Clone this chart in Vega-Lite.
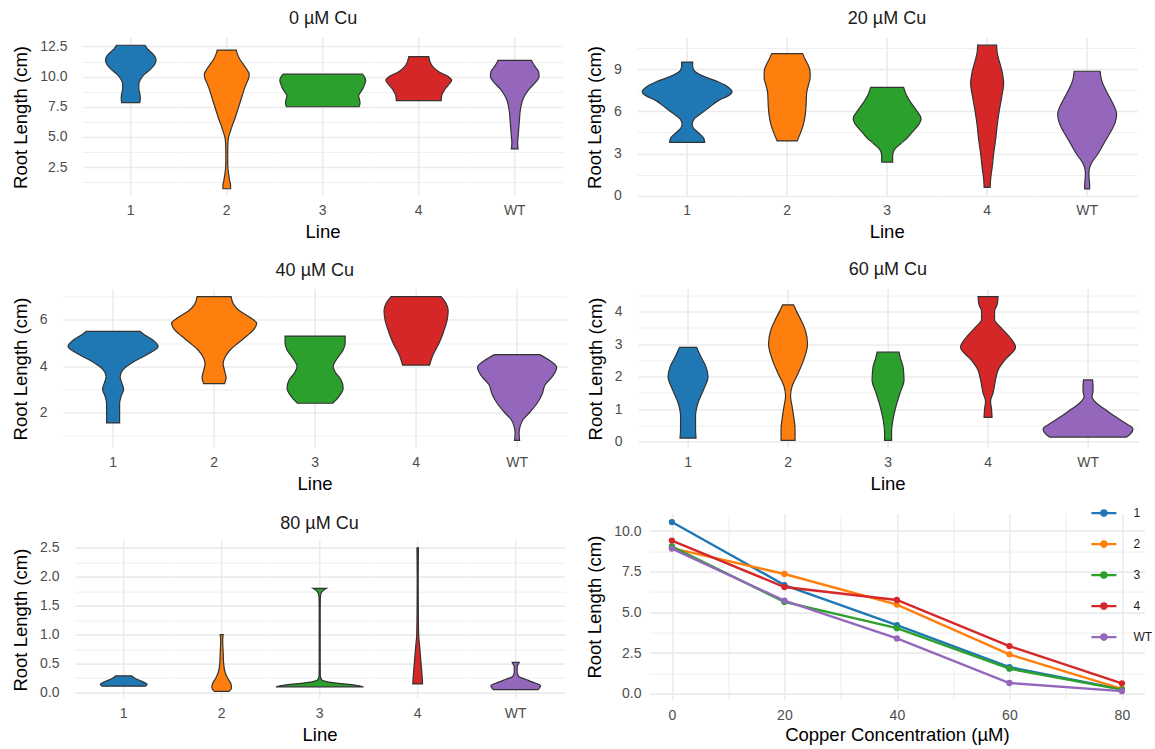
{
"$schema": "https://vega.github.io/schema/vega-lite/v6.json",
"padding": {"left": 0, "top": 10, "right": 0, "bottom": 0},
"background": "white",
"datasets": {
"v0": [
{"line":"1","y":7.85,"w":0.19},{"line":"1","y":8.2,"w":0.2},{"line":"1","y":8.6,"w":0.19},{"line":"1","y":9.0,"w":0.17},{"line":"1","y":9.4,"w":0.17},{"line":"1","y":9.8,"w":0.21},{"line":"1","y":10.2,"w":0.29},{"line":"1","y":10.6,"w":0.41},{"line":"1","y":11.0,"w":0.5},{"line":"1","y":11.35,"w":0.53},{"line":"1","y":11.7,"w":0.5},{"line":"1","y":12.0,"w":0.43},{"line":"1","y":12.3,"w":0.35},{"line":"1","y":12.6,"w":0.3},
{"line":"2","y":0.7,"w":0.08},{"line":"2","y":1.0,"w":0.08},{"line":"2","y":1.4,"w":0.06},{"line":"2","y":1.9,"w":0.04},{"line":"2","y":2.4,"w":0.025},{"line":"2","y":3.0,"w":0.02},{"line":"2","y":3.8,"w":0.02},{"line":"2","y":4.5,"w":0.025},{"line":"2","y":5.0,"w":0.04},{"line":"2","y":5.5,"w":0.08},{"line":"2","y":6.0,"w":0.12},{"line":"2","y":6.5,"w":0.17},{"line":"2","y":7.0,"w":0.21},{"line":"2","y":7.5,"w":0.25},{"line":"2","y":8.0,"w":0.29},{"line":"2","y":8.5,"w":0.33},{"line":"2","y":9.0,"w":0.37},{"line":"2","y":9.5,"w":0.42},{"line":"2","y":9.9,"w":0.46},{"line":"2","y":10.2,"w":0.47},{"line":"2","y":10.6,"w":0.42},{"line":"2","y":11.0,"w":0.35},{"line":"2","y":11.4,"w":0.28},{"line":"2","y":11.8,"w":0.23},{"line":"2","y":12.2,"w":0.2},
{"line":"3","y":7.5,"w":0.76},{"line":"3","y":7.8,"w":0.78},{"line":"3","y":8.1,"w":0.77},{"line":"3","y":8.4,"w":0.75},{"line":"3","y":8.7,"w":0.79},{"line":"3","y":9.0,"w":0.84},{"line":"3","y":9.4,"w":0.88},{"line":"3","y":9.7,"w":0.9},{"line":"3","y":10.0,"w":0.87},{"line":"3","y":10.2,"w":0.83},
{"line":"4","y":8.0,"w":0.47},{"line":"4","y":8.4,"w":0.48},{"line":"4","y":8.9,"w":0.54},{"line":"4","y":9.3,"w":0.62},{"line":"4","y":9.7,"w":0.69},{"line":"4","y":10.0,"w":0.62},{"line":"4","y":10.4,"w":0.42},{"line":"4","y":10.8,"w":0.3},{"line":"4","y":11.2,"w":0.24},{"line":"4","y":11.65,"w":0.21},
{"line":"WT","y":4.0,"w":0.07},{"line":"WT","y":4.5,"w":0.06},{"line":"WT","y":5.0,"w":0.07},{"line":"WT","y":5.5,"w":0.08},{"line":"WT","y":6.0,"w":0.09},{"line":"WT","y":6.5,"w":0.1},{"line":"WT","y":7.0,"w":0.11},{"line":"WT","y":7.5,"w":0.13},{"line":"WT","y":8.0,"w":0.16},{"line":"WT","y":8.5,"w":0.22},{"line":"WT","y":9.0,"w":0.31},{"line":"WT","y":9.5,"w":0.43},{"line":"WT","y":10.0,"w":0.51},{"line":"WT","y":10.4,"w":0.5},{"line":"WT","y":10.8,"w":0.43},{"line":"WT","y":11.1,"w":0.38},{"line":"WT","y":11.35,"w":0.35}
],
"v20": [
{"line":"1","y":3.8,"w":0.35},{"line":"1","y":4.1,"w":0.33},{"line":"1","y":4.5,"w":0.22},{"line":"1","y":4.8,"w":0.13},{"line":"1","y":5.1,"w":0.1},{"line":"1","y":5.5,"w":0.15},{"line":"1","y":5.9,"w":0.3},{"line":"1","y":6.3,"w":0.45},{"line":"1","y":6.8,"w":0.64},{"line":"1","y":7.1,"w":0.82},{"line":"1","y":7.4,"w":0.9},{"line":"1","y":7.7,"w":0.83},{"line":"1","y":8.1,"w":0.62},{"line":"1","y":8.5,"w":0.32},{"line":"1","y":8.9,"w":0.14},{"line":"1","y":9.2,"w":0.11},{"line":"1","y":9.5,"w":0.11},
{"line":"2","y":3.9,"w":0.2},{"line":"2","y":4.4,"w":0.26},{"line":"2","y":5.0,"w":0.32},{"line":"2","y":5.7,"w":0.36},{"line":"2","y":6.5,"w":0.38},{"line":"2","y":7.3,"w":0.39},{"line":"2","y":7.8,"w":0.42},{"line":"2","y":8.4,"w":0.46},{"line":"2","y":8.8,"w":0.46},{"line":"2","y":9.3,"w":0.42},{"line":"2","y":9.7,"w":0.36},{"line":"2","y":10.1,"w":0.31},
{"line":"3","y":2.4,"w":0.11},{"line":"3","y":2.9,"w":0.11},{"line":"3","y":3.3,"w":0.15},{"line":"3","y":3.7,"w":0.27},{"line":"3","y":4.1,"w":0.4},{"line":"3","y":4.6,"w":0.52},{"line":"3","y":5.0,"w":0.62},{"line":"3","y":5.5,"w":0.68},{"line":"3","y":6.0,"w":0.6},{"line":"3","y":6.6,"w":0.48},{"line":"3","y":7.2,"w":0.38},{"line":"3","y":7.7,"w":0.33},
{"line":"4","y":0.6,"w":0.06},{"line":"4","y":1.2,"w":0.07},{"line":"4","y":2.0,"w":0.1},{"line":"4","y":3.0,"w":0.13},{"line":"4","y":4.0,"w":0.17},{"line":"4","y":5.0,"w":0.2},{"line":"4","y":6.0,"w":0.24},{"line":"4","y":7.0,"w":0.29},{"line":"4","y":8.0,"w":0.33},{"line":"4","y":8.8,"w":0.3},{"line":"4","y":9.6,"w":0.24},{"line":"4","y":10.2,"w":0.2},{"line":"4","y":10.7,"w":0.19},
{"line":"WT","y":0.5,"w":0.05},{"line":"WT","y":0.8,"w":0.05},{"line":"WT","y":1.2,"w":0.04},{"line":"WT","y":1.6,"w":0.035},{"line":"WT","y":2.0,"w":0.05},{"line":"WT","y":2.4,"w":0.1},{"line":"WT","y":2.9,"w":0.2},{"line":"WT","y":3.5,"w":0.3},{"line":"WT","y":4.0,"w":0.38},{"line":"WT","y":4.6,"w":0.48},{"line":"WT","y":5.2,"w":0.56},{"line":"WT","y":5.8,"w":0.59},{"line":"WT","y":6.3,"w":0.55},{"line":"WT","y":7.0,"w":0.45},{"line":"WT","y":7.6,"w":0.36},{"line":"WT","y":8.2,"w":0.29},{"line":"WT","y":8.85,"w":0.26}
],
"v40": [
{"line":"1","y":1.55,"w":0.13},{"line":"1","y":2.0,"w":0.13},{"line":"1","y":2.4,"w":0.13},{"line":"1","y":2.7,"w":0.16},{"line":"1","y":3.0,"w":0.21},{"line":"1","y":3.3,"w":0.17},{"line":"1","y":3.55,"w":0.14},{"line":"1","y":3.85,"w":0.2},{"line":"1","y":4.2,"w":0.42},{"line":"1","y":4.5,"w":0.68},{"line":"1","y":4.85,"w":0.9},{"line":"1","y":5.15,"w":0.78},{"line":"1","y":5.35,"w":0.63},{"line":"1","y":5.5,"w":0.54},
{"line":"2","y":3.25,"w":0.21},{"line":"2","y":3.5,"w":0.24},{"line":"2","y":3.8,"w":0.21},{"line":"2","y":4.1,"w":0.18},{"line":"2","y":4.4,"w":0.22},{"line":"2","y":4.7,"w":0.32},{"line":"2","y":5.0,"w":0.48},{"line":"2","y":5.3,"w":0.65},{"line":"2","y":5.6,"w":0.8},{"line":"2","y":5.85,"w":0.85},{"line":"2","y":6.1,"w":0.72},{"line":"2","y":6.4,"w":0.5},{"line":"2","y":6.7,"w":0.38},{"line":"2","y":7.0,"w":0.34},
{"line":"3","y":2.4,"w":0.35},{"line":"3","y":2.7,"w":0.48},{"line":"3","y":3.05,"w":0.56},{"line":"3","y":3.4,"w":0.52},{"line":"3","y":3.75,"w":0.4},{"line":"3","y":4.0,"w":0.36},{"line":"3","y":4.3,"w":0.43},{"line":"3","y":4.7,"w":0.56},{"line":"3","y":5.0,"w":0.6},{"line":"3","y":5.3,"w":0.6},
{"line":"4","y":4.05,"w":0.27},{"line":"4","y":4.5,"w":0.34},{"line":"4","y":5.0,"w":0.46},{"line":"4","y":5.5,"w":0.55},{"line":"4","y":6.0,"w":0.62},{"line":"4","y":6.4,"w":0.64},{"line":"4","y":6.7,"w":0.6},{"line":"4","y":7.0,"w":0.5},
{"line":"WT","y":0.8,"w":0.05},{"line":"WT","y":1.1,"w":0.04},{"line":"WT","y":1.4,"w":0.06},{"line":"WT","y":1.7,"w":0.12},{"line":"WT","y":2.0,"w":0.25},{"line":"WT","y":2.4,"w":0.4},{"line":"WT","y":2.8,"w":0.5},{"line":"WT","y":3.2,"w":0.56},{"line":"WT","y":3.6,"w":0.72},{"line":"WT","y":3.95,"w":0.79},{"line":"WT","y":4.25,"w":0.65},{"line":"WT","y":4.5,"w":0.45}
],
"v60": [
{"line":"1","y":0.12,"w":0.16},{"line":"1","y":0.4,"w":0.15},{"line":"1","y":0.8,"w":0.15},{"line":"1","y":1.2,"w":0.2},{"line":"1","y":1.6,"w":0.31},{"line":"1","y":2.0,"w":0.4},{"line":"1","y":2.3,"w":0.36},{"line":"1","y":2.6,"w":0.26},{"line":"1","y":2.9,"w":0.17},
{"line":"2","y":0.05,"w":0.14},{"line":"2","y":0.4,"w":0.14},{"line":"2","y":0.8,"w":0.11},{"line":"2","y":1.1,"w":0.08},{"line":"2","y":1.4,"w":0.05},{"line":"2","y":1.7,"w":0.08},{"line":"2","y":2.1,"w":0.2},{"line":"2","y":2.5,"w":0.31},{"line":"2","y":3.0,"w":0.39},{"line":"2","y":3.4,"w":0.35},{"line":"2","y":3.7,"w":0.27},{"line":"2","y":4.0,"w":0.17},{"line":"2","y":4.2,"w":0.11},
{"line":"3","y":0.05,"w":0.07},{"line":"3","y":0.3,"w":0.07},{"line":"3","y":0.7,"w":0.1},{"line":"3","y":1.1,"w":0.16},{"line":"3","y":1.5,"w":0.24},{"line":"3","y":1.9,"w":0.32},{"line":"3","y":2.3,"w":0.3},{"line":"3","y":2.55,"w":0.25},{"line":"3","y":2.75,"w":0.22},
{"line":"4","y":0.75,"w":0.08},{"line":"4","y":1.0,"w":0.07},{"line":"4","y":1.25,"w":0.05},{"line":"4","y":1.5,"w":0.1},{"line":"4","y":1.9,"w":0.15},{"line":"4","y":2.2,"w":0.2},{"line":"4","y":2.5,"w":0.33},{"line":"4","y":2.9,"w":0.55},{"line":"4","y":3.2,"w":0.44},{"line":"4","y":3.5,"w":0.26},{"line":"4","y":3.75,"w":0.13},{"line":"4","y":4.0,"w":0.13},{"line":"4","y":4.2,"w":0.18},{"line":"4","y":4.45,"w":0.2},
{"line":"WT","y":0.15,"w":0.77},{"line":"WT","y":0.25,"w":0.85},{"line":"WT","y":0.4,"w":0.9},{"line":"WT","y":0.6,"w":0.72},{"line":"WT","y":0.8,"w":0.52},{"line":"WT","y":1.0,"w":0.34},{"line":"WT","y":1.2,"w":0.16},{"line":"WT","y":1.4,"w":0.08},{"line":"WT","y":1.55,"w":0.1},{"line":"WT","y":1.7,"w":0.1},{"line":"WT","y":1.9,"w":0.09}
],
"v80": [
{"line":"1","y":0.11,"w":0.44},{"line":"1","y":0.14,"w":0.48},{"line":"1","y":0.2,"w":0.36},{"line":"1","y":0.25,"w":0.22},{"line":"1","y":0.29,"w":0.16},
{"line":"2","y":0.02,"w":0.15},{"line":"2","y":0.08,"w":0.2},{"line":"2","y":0.15,"w":0.19},{"line":"2","y":0.25,"w":0.12},{"line":"2","y":0.35,"w":0.07},{"line":"2","y":0.5,"w":0.04},{"line":"2","y":0.7,"w":0.03},{"line":"2","y":0.9,"w":0.02},{"line":"2","y":1.0,"w":0.03},
{"line":"3","y":0.1,"w":0.9},{"line":"3","y":0.13,"w":0.72},{"line":"3","y":0.16,"w":0.38},{"line":"3","y":0.19,"w":0.14},{"line":"3","y":0.22,"w":0.04},{"line":"3","y":0.3,"w":0.012},{"line":"3","y":0.6,"w":0.01},{"line":"3","y":1.0,"w":0.01},{"line":"3","y":1.4,"w":0.01},{"line":"3","y":1.62,"w":0.012},{"line":"3","y":1.71,"w":0.025},{"line":"3","y":1.76,"w":0.07},{"line":"3","y":1.8,"w":0.14},
{"line":"4","y":0.15,"w":0.1},{"line":"4","y":0.3,"w":0.09},{"line":"4","y":0.5,"w":0.07},{"line":"4","y":0.8,"w":0.04},{"line":"4","y":1.0,"w":0.02},{"line":"4","y":1.5,"w":0.012},{"line":"4","y":2.0,"w":0.01},{"line":"4","y":2.5,"w":0.015},
{"line":"WT","y":0.05,"w":0.46},{"line":"WT","y":0.12,"w":0.51},{"line":"WT","y":0.18,"w":0.35},{"line":"WT","y":0.23,"w":0.2},{"line":"WT","y":0.28,"w":0.06},{"line":"WT","y":0.35,"w":0.03},{"line":"WT","y":0.45,"w":0.03},{"line":"WT","y":0.5,"w":0.06},{"line":"WT","y":0.52,"w":0.07}
],
"means": [
{"line":"1","cu":0,"len":10.55},{"line":"1","cu":20,"len":6.68},{"line":"1","cu":40,"len":4.22},{"line":"1","cu":60,"len":1.64},{"line":"1","cu":80,"len":0.27},
{"line":"2","cu":0,"len":8.95},{"line":"2","cu":20,"len":7.36},{"line":"2","cu":40,"len":5.48},{"line":"2","cu":60,"len":2.42},{"line":"2","cu":80,"len":0.3},
{"line":"3","cu":0,"len":9.05},{"line":"3","cu":20,"len":5.64},{"line":"3","cu":40,"len":4.03},{"line":"3","cu":60,"len":1.54},{"line":"3","cu":80,"len":0.25},
{"line":"4","cu":0,"len":9.41},{"line":"4","cu":20,"len":6.56},{"line":"4","cu":40,"len":5.76},{"line":"4","cu":60,"len":2.93},{"line":"4","cu":80,"len":0.64},
{"line":"WT","cu":0,"len":8.92},{"line":"WT","cu":20,"len":5.72},{"line":"WT","cu":40,"len":3.4},{"line":"WT","cu":60,"len":0.66},{"line":"WT","cu":80,"len":0.16}
],
"none": []
},
"vconcat": [
{"vconcat": [
{"hconcat": [
 {"hconcat": [
  {"data": {"name": "none"}, "mark": "point", "width": 1, "height": 1},
  {"title": {"text": "0 µM Cu", "dx": 36},
   "data": {"name": "v0"}, "spacing": 0,
   "transform": [{"stack": "w", "groupby": ["line", "y"], "offset": "center", "as": ["x0", "x1"]}],
   "facet": {"column": {"field": "line", "type": "nominal", "title": "Line", "sort": ["1","2","3","4","WT"]}},
   "spec": {"width": 95.5, "height": 158, "layer": [
    {"transform": [{"aggregate": [{"op": "count", "as": "n"}], "groupby": ["line"]}],
     "mark": {"type": "rule", "color": "#ebebeb", "strokeWidth": 1.6},
     "encoding": {"x": {"datum": 0.45, "type": "quantitative", "scale": {"domain": [-0.05, 0.95], "nice": false, "zero": false}, "axis": null}}},
    {"mark": {"type": "area", "orient": "horizontal", "interpolate": "monotone", "stroke": "#333333", "strokeWidth": 1.2, "fillOpacity": 1},
     "encoding": {
      "y": {"field": "y", "type": "quantitative", "scale": {"domain": [0.1, 13.2], "nice": false, "zero": false},
        "axis": {"title": "Root Length (cm)", "values": [1.25,2.5,3.75,5,6.25,7.5,8.75,10,11.25,12.5], "labelExpr": "round(datum.value/1.25)%2==1 ? '' : format(datum.value,'.1f')", "gridWidth": {"condition": {"test": "round(datum.value/1.25)%2==1", "value": 0.8}, "value": 1.6}, "labelPadding": 16, "labelOverlap": false}},
      "x": {"field": "x0", "type": "quantitative", "stack": null, "axis": null, "scale": {"domain": [-0.05, 0.95], "nice": false, "zero": false}},
      "x2": {"field": "x1"},
      "color": {"field": "line", "type": "nominal", "scale": {"domain": ["1","2","3","4","WT"], "range": ["#1f77b4","#ff7f0e","#2ca02c","#d62728","#9467bd"]}, "legend": null}
     }}
   ]}}
 ], "spacing": 10},
 {"title": {"text": "20 µM Cu", "dx": 25.7},
  "data": {"name": "v20"}, "spacing": 0,
  "transform": [{"stack": "w", "groupby": ["line", "y"], "offset": "center", "as": ["x0", "x1"]}],
  "facet": {"column": {"field": "line", "type": "nominal", "title": "Line", "sort": ["1","2","3","4","WT"]}},
  "spec": {"width": 99.9, "height": 158, "layer": [
   {"transform": [{"aggregate": [{"op": "count", "as": "n"}], "groupby": ["line"]}],
    "mark": {"type": "rule", "color": "#ebebeb", "strokeWidth": 1.6},
    "encoding": {"x": {"datum": 0.45, "type": "quantitative", "scale": {"domain": [-0.05, 0.95], "nice": false, "zero": false}, "axis": null}}},
   {"mark": {"type": "area", "orient": "horizontal", "interpolate": "monotone", "stroke": "#333333", "strokeWidth": 1.2, "fillOpacity": 1},
    "encoding": {
     "y": {"field": "y", "type": "quantitative", "scale": {"domain": [-0.01, 11.21], "nice": false, "zero": false},
       "axis": {"title": "Root Length (cm)", "values": [0,1.5,3,4.5,6,7.5,9,10.5], "labelExpr": "round(datum.value/1.5)%2==1 ? '' : format(datum.value,'d')", "gridWidth": {"condition": {"test": "round(datum.value/1.5)%2==1", "value": 0.8}, "value": 1.6}, "labelPadding": 16, "labelOverlap": false}},
     "x": {"field": "x0", "type": "quantitative", "stack": null, "axis": null, "scale": {"domain": [-0.05, 0.95], "nice": false, "zero": false}},
     "x2": {"field": "x1"},
     "color": {"field": "line", "type": "nominal", "scale": {"domain": ["1","2","3","4","WT"], "range": ["#1f77b4","#ff7f0e","#2ca02c","#d62728","#9467bd"]}, "legend": null}
    }}
  ]}}
], "spacing": 22.2, "resolve": {"scale": {"color": "independent"}, "legend": {"color": "independent"}}},
{"hconcat": [
 {"hconcat": [
  {"data": {"name": "none"}, "mark": "point", "width": 1, "height": 1},
  {"title": {"text": "40 µM Cu", "dx": 25.6},
   "data": {"name": "v40"}, "spacing": 0,
   "transform": [{"stack": "w", "groupby": ["line", "y"], "offset": "center", "as": ["x0", "x1"]}],
   "facet": {"column": {"field": "line", "type": "nominal", "title": "Line", "sort": ["1","2","3","4","WT"]}},
   "spec": {"width": 100.2, "height": 158, "layer": [
    {"transform": [{"aggregate": [{"op": "count", "as": "n"}], "groupby": ["line"]}],
     "mark": {"type": "rule", "color": "#ebebeb", "strokeWidth": 1.6},
     "encoding": {"x": {"datum": 0.45, "type": "quantitative", "scale": {"domain": [-0.05, 0.95], "nice": false, "zero": false}, "axis": null}}},
    {"mark": {"type": "area", "orient": "horizontal", "interpolate": "monotone", "stroke": "#333333", "strokeWidth": 1.2, "fillOpacity": 1},
     "encoding": {
      "y": {"field": "y", "type": "quantitative", "scale": {"domain": [0.49, 7.31], "nice": false, "zero": false},
        "axis": {"title": "Root Length (cm)", "values": [1,2,3,4,5,6,7], "labelExpr": "round(datum.value)%2==1 ? '' : format(datum.value,'d')", "gridWidth": {"condition": {"test": "round(datum.value)%2==1", "value": 0.8}, "value": 1.6}, "labelPadding": 16, "labelOverlap": false}},
      "x": {"field": "x0", "type": "quantitative", "stack": null, "axis": null, "scale": {"domain": [-0.05, 0.95], "nice": false, "zero": false}},
      "x2": {"field": "x1"},
      "color": {"field": "line", "type": "nominal", "scale": {"domain": ["1","2","3","4","WT"], "range": ["#1f77b4","#ff7f0e","#2ca02c","#d62728","#9467bd"]}, "legend": null}
     }}
   ]}}
 ], "spacing": 10},
 {"title": {"text": "60 µM Cu", "dx": 25.7},
  "data": {"name": "v60"}, "spacing": 0,
  "transform": [{"stack": "w", "groupby": ["line", "y"], "offset": "center", "as": ["x0", "x1"]}],
  "facet": {"column": {"field": "line", "type": "nominal", "title": "Line", "sort": ["1","2","3","4","WT"]}},
  "spec": {"width": 99.9, "height": 158, "layer": [
   {"transform": [{"aggregate": [{"op": "count", "as": "n"}], "groupby": ["line"]}],
    "mark": {"type": "rule", "color": "#ebebeb", "strokeWidth": 1.6},
    "encoding": {"x": {"datum": 0.45, "type": "quantitative", "scale": {"domain": [-0.05, 0.95], "nice": false, "zero": false}, "axis": null}}},
   {"mark": {"type": "area", "orient": "horizontal", "interpolate": "monotone", "stroke": "#333333", "strokeWidth": 1.2, "fillOpacity": 1},
    "encoding": {
     "y": {"field": "y", "type": "quantitative", "scale": {"domain": [-0.17, 4.67], "nice": false, "zero": false},
       "axis": {"title": "Root Length (cm)", "values": [0,0.5,1,1.5,2,2.5,3,3.5,4,4.5], "labelExpr": "round(datum.value/0.5)%2==1 ? '' : format(datum.value,'d')", "gridWidth": {"condition": {"test": "round(datum.value/0.5)%2==1", "value": 0.8}, "value": 1.6}, "labelPadding": 16, "labelOverlap": false}},
     "x": {"field": "x0", "type": "quantitative", "stack": null, "axis": null, "scale": {"domain": [-0.05, 0.95], "nice": false, "zero": false}},
     "x2": {"field": "x1"},
     "color": {"field": "line", "type": "nominal", "scale": {"domain": ["1","2","3","4","WT"], "range": ["#1f77b4","#ff7f0e","#2ca02c","#d62728","#9467bd"]}, "legend": null}
    }}
  ]}}
], "spacing": 18.1, "resolve": {"scale": {"color": "independent"}, "legend": {"color": "independent"}}}
], "spacing": 18.5, "resolve": {"scale": {"color": "independent"}, "legend": {"color": "independent"}}},
{"hconcat": [
 {"hconcat": [
  {"data": {"name": "none"}, "mark": "point", "width": 1, "height": 1},
  {"vconcat": [
   {"data": {"name": "none"}, "mark": "point", "width": 1, "height": 1},
   {"title": {"text": "80 µM Cu", "dx": 31.5, "offset": 7},
    "data": {"name": "v80"}, "spacing": 0,
    "transform": [{"stack": "w", "groupby": ["line", "y"], "offset": "center", "as": ["x0", "x1"]}],
    "facet": {"column": {"field": "line", "type": "nominal", "title": "Line", "sort": ["1","2","3","4","WT"]}},
    "spec": {"width": 97.4, "height": 158, "layer": [
     {"transform": [{"aggregate": [{"op": "count", "as": "n"}], "groupby": ["line"]}],
      "mark": {"type": "rule", "color": "#ebebeb", "strokeWidth": 1.6},
      "encoding": {"x": {"datum": 0.45, "type": "quantitative", "scale": {"domain": [-0.05, 0.95], "nice": false, "zero": false}, "axis": null}}},
     {"mark": {"type": "area", "orient": "horizontal", "interpolate": "monotone", "stroke": "#333333", "strokeWidth": 1.2, "fillOpacity": 1},
      "encoding": {
       "y": {"field": "y", "type": "quantitative", "scale": {"domain": [-0.104, 2.624], "nice": false, "zero": false},
         "axis": {"title": "Root Length (cm)", "values": [0,0.25,0.5,0.75,1,1.25,1.5,1.75,2,2.25,2.5], "labelExpr": "round(datum.value/0.25)%2==1 ? '' : format(datum.value,'.1f')", "gridWidth": {"condition": {"test": "round(datum.value/0.25)%2==1", "value": 0.8}, "value": 1.6}, "labelPadding": 16, "labelOverlap": false}},
       "x": {"field": "x0", "type": "quantitative", "stack": null, "axis": null, "scale": {"domain": [-0.05, 0.95], "nice": false, "zero": false}},
       "x2": {"field": "x1"},
       "color": {"field": "line", "type": "nominal", "scale": {"domain": ["1","2","3","4","WT"], "range": ["#1f77b4","#ff7f0e","#2ca02c","#d62728","#9467bd"]}, "legend": null}
      }}
    ]}}
  ], "spacing": 0}
 ], "spacing": 10},
 {"width": 495, "height": 186,
  "data": {"name": "means"},
  "encoding": {
   "x": {"field": "cu", "type": "quantitative", "scale": {"domain": [-4, 84], "nice": false, "zero": false},
     "axis": {"title": "Copper Concentration (µM)", "values": [0,10,20,30,40,50,60,70,80], "labelExpr": "round(datum.value/10)%2==1 ? '' : format(datum.value,'d')", "gridWidth": {"condition": {"test": "round(datum.value/10)%2==1", "value": 0.8}, "value": 1.6}, "labelPadding": 9, "titlePadding": 3, "labelFlush": false, "labelOverlap": false}},
   "y": {"field": "len", "type": "quantitative", "scale": {"domain": [-0.36, 11.07], "nice": false, "zero": false},
     "axis": {"title": "Root Length (cm)", "values": [0,1.25,2.5,3.75,5,6.25,7.5,8.75,10], "labelExpr": "round(datum.value/1.25)%2==1 ? '' : format(datum.value,'.1f')", "gridWidth": {"condition": {"test": "round(datum.value/1.25)%2==1", "value": 0.8}, "value": 1.6}, "labelPadding": 8.4, "labelOverlap": false}},
   "color": {"field": "line", "type": "nominal", "scale": {"domain": ["1","2","3","4","WT"], "range": ["#1f77b4","#ff7f0e","#2ca02c","#d62728","#9467bd"]},
     "legend": {"orient": "top-right", "offset": -8, "title": null, "padding": 0,
       "symbolType": "M-2,0L2,0M-0.45,0A0.45,0.45,0,1,1,0.45,0A0.45,0.45,0,1,1,-0.45,0",
       "symbolSize": 156, "symbolStrokeWidth": 2.2, "labelFontSize": 12, "labelColor": "#1a1a1a", "labelOffset": 22, "rowPadding": 16,
       "encode": {"symbols": {"update": {
         "fill": {"signal": "datum.value == '1' ? '#1f77b4' : datum.value == '2' ? '#ff7f0e' : datum.value == '3' ? '#2ca02c' : datum.value == '4' ? '#d62728' : '#9467bd'"},
         "stroke": {"signal": "datum.value == '1' ? '#1f77b4' : datum.value == '2' ? '#ff7f0e' : datum.value == '3' ? '#2ca02c' : datum.value == '4' ? '#d62728' : '#9467bd'"},
         "opacity": {"value": 1}}}}}}
  },
  "layer": [
   {"mark": {"type": "line", "strokeWidth": 2.4}},
   {"mark": {"type": "point", "filled": true, "size": 40, "opacity": 1}}
  ]}
], "spacing": 20.4, "resolve": {"scale": {"color": "independent"}, "legend": {"color": "independent"}}}
],
"spacing": 12.6,
"resolve": {"scale": {"color": "independent"}, "legend": {"color": "independent"}},
"config": {
 "font": "Liberation Sans",
 "view": {"stroke": null},
 "title": {"fontSize": 18, "fontWeight": "normal", "color": "#1a1a1a", "anchor": "middle", "offset": 9},
 "axis": {"domain": false, "ticks": false, "labelFontSize": 14, "labelColor": "#4d4d4d", "titleFontSize": 18.5, "titleFontWeight": "normal", "titleColor": "#000000", "gridColor": "#ebebeb", "titlePadding": 9},
 "header": {"labelFontSize": 14, "labelColor": "#4d4d4d", "titleFontSize": 18.5, "titleFontWeight": "normal", "titleColor": "#000000", "labelOrient": "bottom", "titleOrient": "bottom", "labelPadding": 7, "titlePadding": -5, "labelBaseline": "top", "titleBaseline": "top"}
}
}
